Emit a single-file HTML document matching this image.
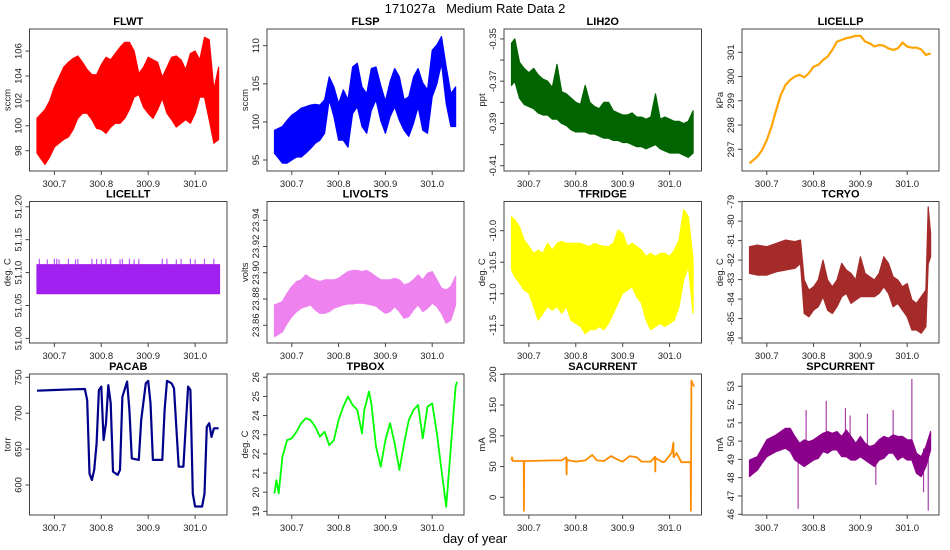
<!DOCTYPE html>
<html><head><meta charset="utf-8">
<style>
html,body{margin:0;padding:0;background:#fff;}
svg{display:block;font-family:"Liberation Sans",Arial,sans-serif;}
</style></head>
<body>
<svg id="chart" width="950" height="550" viewBox="0 0 950 550">
<text x="475" y="13" font-size="13" text-anchor="middle" fill="#000" style="white-space:pre">171027a&#160;&#160;&#160;Medium Rate Data 2</text>
<text x="475" y="543" font-size="13" text-anchor="middle" fill="#000">day of year</text>
</svg>
<script>
// ---- shared x ticks ----
const xTicks = [300.7, 300.8, 300.9, 301.0];
const xTickLabels = ["300.7", "300.8", "300.9", "301.0"];

// ---- FLWT ----
const tFLWT = [300.663,300.68,300.69,300.70,300.71,300.72,300.73,300.74,300.75,300.76,300.77,300.78,300.79,300.80,300.81,300.82,300.83,300.84,300.85,300.86,300.87,300.88,300.89,300.90,300.91,300.92,300.93,300.94,300.95,300.96,300.97,300.98,300.99,301.00,301.01,301.02,301.03,301.04,301.05];
const hiFLWT = [100.6,101.3,102,103.1,103.9,104.7,105.1,105.4,105.6,105.1,104.5,104.1,104.1,104.9,105.5,105.3,105.8,106.3,106.7,106.7,106,104.2,104.7,105.5,105.3,105.1,103.9,104.7,105.5,105.6,105.3,104.5,105.8,106,105.3,107.1,106.9,102.9,104.7];
const loFLWT = [97.8,96.9,97.5,98.3,98.6,98.9,99.1,99.7,100.6,101,101,100.5,99.8,99.7,99.4,99.9,100.2,100.2,100.6,101.3,102.3,102.5,101.5,101,100.6,101.3,102.2,101,100.5,99.9,100.2,100.5,100.2,101,102.3,102.3,100.5,98.6,98.9];

// ---- FLSP ----
const tFLSP = tFLWT;
const hiFLSP = [98.9,99.4,100.2,100.9,101.3,101.8,102,102.2,102.3,102.2,102.9,105.9,104.6,102.4,104.2,102.9,107.2,107.7,104.6,103.7,107,107.2,104.8,102.7,105.3,107,105.9,102.9,103.3,105.9,107,105.1,104.2,109.4,110.1,111.2,107.2,103.7,104.6];
const loFLSP = [95.9,94.6,94.6,95,95.4,95.4,95.9,96.5,97.2,97.6,98.5,102.9,100.7,97.6,97.6,96.7,101.1,102,99.4,98.5,101.5,102.9,100.2,98.5,100.7,102,100.2,98.9,98.1,99.8,102,98.9,98.5,103.3,105,107.7,102.4,99.4,99.4];

// ---- LIH2O ----
const tLIH2O = [300.663,300.67,300.68,300.69,300.70,300.71,300.72,300.73,300.74,300.75,300.76,300.77,300.78,300.79,300.80,300.81,300.82,300.83,300.84,300.85,300.86,300.87,300.88,300.89,300.90,300.91,300.92,300.93,300.94,300.95,300.96,300.97,300.98,300.99,301.00,301.01,301.02,301.03,301.04,301.05];
const hiLIH2O = [-0.352,-0.35,-0.361,-0.364,-0.366,-0.364,-0.367,-0.369,-0.370,-0.373,-0.362,-0.375,-0.376,-0.378,-0.380,-0.381,-0.372,-0.380,-0.382,-0.383,-0.380,-0.380,-0.384,-0.385,-0.386,-0.386,-0.385,-0.387,-0.387,-0.388,-0.387,-0.376,-0.388,-0.387,-0.388,-0.389,-0.389,-0.390,-0.389,-0.384];
const loLIH2O = [-0.372,-0.370,-0.378,-0.381,-0.382,-0.383,-0.385,-0.386,-0.386,-0.388,-0.388,-0.390,-0.391,-0.393,-0.394,-0.394,-0.394,-0.395,-0.395,-0.396,-0.397,-0.397,-0.398,-0.398,-0.399,-0.399,-0.400,-0.401,-0.401,-0.402,-0.401,-0.400,-0.402,-0.403,-0.404,-0.404,-0.404,-0.405,-0.406,-0.404];

// ---- LICELLP ----
const tLICELLP = tFLWT;
const vLICELLP = [296.42,296.7,296.97,297.38,297.93,298.62,299.24,299.65,299.86,300,300.07,299.97,300.14,300.41,300.48,300.68,300.82,301.1,301.44,301.51,301.58,301.62,301.68,301.68,301.44,301.37,301.24,301.3,301.27,301.16,301.1,301.16,301.4,301.24,301.19,301.19,301.12,300.89,300.96];

// ---- LICELLT ----
const tLICELLT = [300.663, 301.052];
const hiLICELLT = [51.112, 51.112];
const loLICELLT = [51.068, 51.068];
const spikeTLICELLT = [300.668,300.685,300.7,300.705,300.71,300.73,300.745,300.75,300.78,300.79,300.8,300.81,300.82,300.84,300.845,300.86,300.87,300.88,300.93,300.94,300.96,300.97,300.99,301.0,301.02,301.04];
const spikeVLICELLT = [51.121,51.12,51.121,51.121,51.12,51.121,51.12,51.121,51.121,51.121,51.12,51.121,51.121,51.12,51.121,51.121,51.12,51.121,51.121,51.121,51.12,51.121,51.121,51.12,51.121,51.121];

// ---- LIVOLTS ----
const tLIVOLTS = tFLWT;
const hiLIVOLTS = [23.8755,23.878,23.8844,23.8895,23.8933,23.8946,23.8984,23.8958,23.8946,23.8933,23.8946,23.8946,23.8946,23.8958,23.8984,23.9009,23.9017,23.9017,23.9009,23.9017,23.8996,23.8971,23.8946,23.8946,23.8946,23.8958,23.8946,23.8907,23.892,23.8946,23.8984,23.8946,23.8996,23.9009,23.8946,23.8882,23.8869,23.8895,23.8971];
const loLIVOLTS = [23.8514,23.855,23.8615,23.8666,23.8704,23.873,23.8742,23.8755,23.8717,23.8691,23.8691,23.8704,23.873,23.8742,23.8755,23.8763,23.8763,23.8768,23.8768,23.8763,23.8755,23.8747,23.8717,23.8691,23.8704,23.8742,23.8704,23.8653,23.8666,23.8717,23.8755,23.8704,23.873,23.8768,23.8742,23.8691,23.8615,23.864,23.8755];

// ---- TFRIDGE ----
const tTFRIDGE = tLIH2O;
const hiTFRIDGE = [-9.78,-9.83,-9.94,-10.15,-10.25,-10.36,-10.31,-10.36,-10.2,-10.31,-10.2,-10.17,-10.2,-10.2,-10.2,-10.2,-10.23,-10.25,-10.2,-10.23,-10.25,-10.25,-10.2,-9.99,-10.04,-10.25,-10.2,-10.25,-10.31,-10.41,-10.36,-10.41,-10.36,-10.36,-10.41,-10.31,-10.15,-9.67,-9.78,-10.46];
const loTFRIDGE = [-10.62,-10.73,-10.83,-10.94,-10.99,-11.2,-11.42,-11.31,-11.2,-11.26,-11.2,-11.31,-11.2,-11.42,-11.47,-11.52,-11.63,-11.57,-11.57,-11.52,-11.57,-11.47,-11.31,-11.15,-10.99,-10.94,-10.89,-11.05,-11.15,-11.42,-11.57,-11.52,-11.47,-11.52,-11.47,-11.42,-11.2,-10.78,-10.57,-11.31];

// ---- TCRYO ----
const tTCRYO = [300.663,300.68,300.70,300.72,300.74,300.76,300.772,300.78,300.79,300.80,300.81,300.82,300.83,300.84,300.85,300.86,300.87,300.88,300.89,300.90,300.91,300.92,300.93,300.94,300.95,300.96,300.97,300.98,300.99,301.00,301.01,301.02,301.03,301.04,301.045,301.05];
const hiTCRYO = [-81.31,-81.23,-81.31,-81.14,-80.97,-81.05,-80.97,-83.02,-83.54,-83.37,-83.02,-82,-83.02,-83.37,-83.02,-82.17,-82.51,-82.68,-83.02,-81.83,-82.68,-82.85,-83.02,-82.68,-81.83,-82.17,-82.85,-83.02,-83.37,-83.2,-84.05,-84.22,-83.88,-83.54,-79.26,-80.63];
const loTCRYO = [-82.68,-82.77,-82.77,-82.6,-82.51,-82.42,-82.17,-84.74,-84.91,-84.57,-84.39,-83.88,-84.57,-84.74,-84.39,-83.88,-83.71,-84.22,-84.05,-83.88,-83.88,-83.88,-83.88,-83.71,-83.37,-83.71,-84.39,-84.22,-84.57,-84.91,-85.59,-85.59,-85.76,-85.42,-82.2,-81.83];

// ---- PACAB ----
const tPACAB = [300.663,300.70,300.74,300.765,300.77,300.775,300.78,300.785,300.79,300.795,300.80,300.805,300.81,300.815,300.82,300.825,300.835,300.84,300.845,300.855,300.86,300.865,300.88,300.885,300.895,300.90,300.905,300.91,300.93,300.935,300.94,300.95,300.955,300.96,300.965,300.975,300.98,300.985,300.99,300.995,301.00,301.015,301.02,301.025,301.03,301.035,301.04,301.05];
const vPACAB = [731.4,732.3,733.3,733.7,718,616,607,621,658,732,737,662.7,686,739,714,618.6,614,621,723,744,704.5,637,635,690.5,741.6,745,714,635,635,704.5,745,741.6,734.7,681,625.5,625.5,681,737,732.3,588,570,570,588,681,686,667,679,679];

// ---- TPBOX ----
const tTPBOX = [300.663,300.667,300.672,300.68,300.69,300.70,300.71,300.72,300.73,300.74,300.75,300.76,300.77,300.78,300.79,300.80,300.81,300.82,300.83,300.84,300.85,300.855,300.865,300.87,300.88,300.89,300.90,300.91,300.92,300.93,300.94,300.95,300.96,300.97,300.98,300.99,301.00,301.01,301.02,301.03,301.04,301.05,301.053];
const vTPBOX = [19.94,20.63,19.94,21.85,22.72,22.81,23.16,23.6,23.86,23.77,23.42,22.9,23.16,22.46,22.72,23.77,24.47,24.99,24.55,24.29,23.07,24.29,25.25,24.64,22.38,21.33,22.72,23.6,22.55,21.16,22.55,23.77,24.29,24.55,22.81,24.47,24.64,23.07,21.16,19.24,22.38,25.51,25.77];

// ---- SACURRENT ----
const tSACURRENT = [300.663,300.664,300.666,300.689,300.6895,300.690,300.70,300.75,300.77,300.78,300.7805,300.781,300.785,300.80,300.82,300.835,300.845,300.86,300.875,300.89,300.90,300.915,300.93,300.94,300.96,300.969,300.9695,300.97,300.985,300.99,301.005,301.008,301.0085,301.015,301.025,301.045,301.0455,301.0465,301.052];
const vSACURRENT = [60,65,59,59,-22,59,59,60,60,65,37,62,60,58,60,69,60,59,67,61,58,67,65,58,58,66,42,64,57,58,73,89,65,72,57,57,-22,190,180];

// ---- SPCURRENT ----
const tSPCURRENT = [300.663,300.68,300.69,300.70,300.72,300.74,300.75,300.76,300.77,300.78,300.79,300.80,300.81,300.82,300.83,300.84,300.85,300.86,300.87,300.88,300.89,300.90,300.91,300.92,300.93,300.94,300.95,300.96,300.97,300.98,300.99,301.00,301.01,301.02,301.03,301.04,301.05];
const hiSPCURRENT = [48.97,49.15,49.61,50.07,50.34,50.7,50.7,50.25,49.88,50.07,49.97,50.07,50.25,50.43,50.52,50.43,50.52,50.25,50.61,50.25,49.88,50.25,49.88,49.7,49.79,50.07,50.25,50.16,50.34,50.25,50.25,50.07,50.07,49.34,49.15,49.7,50.52];
const loSPCURRENT = [48.06,48.42,48.79,49.15,49.43,49.61,49.43,48.97,48.79,48.61,48.79,48.97,49.06,49.43,49.34,49.52,49.52,49.15,49.15,48.97,48.97,49.15,48.97,48.79,48.61,48.97,49.06,49.34,49.34,48.97,49.15,48.97,48.97,48.24,48.06,48.61,49.52];
const spikeTSPCURRENT = [300.767,300.784,300.827,300.868,300.878,300.915,300.933,300.97,301.01,301.045,301.035];
const spikeVSPCURRENT = [46.3,51.7,52.2,51.8,51.4,51.5,47.6,51.7,53.4,46.2,47.2];

// ---------- layout ----------
const colX = [[29.5,227],[267,464],[504,701.5],[742,939]];
const rowY = [[29,171],[201.5,343],[374,515]];
const xDomain = [300.647, 301.068];
const NS = "http://www.w3.org/2000/svg";
const svg = document.getElementById('chart');

function mk(tag, attrs, parent){
  const e = document.createElementNS(NS, tag);
  for (const k in attrs) e.setAttribute(k, attrs[k]);
  (parent||svg).appendChild(e);
  return e;
}

const panels = [
 {name:"FLWT", c:0,r:0, ylab:"sccm", color:"#ff0000", lim:[96.37,107.77], ticks:[98,100,102,104,106], labels:["98","100","102","104","106"], t:tFLWT, hi:hiFLWT, lo:loFLWT},
 {name:"FLSP", c:1,r:0, ylab:"sccm", color:"#0000ff", lim:[93.56,112.19], ticks:[95,100,105,110], labels:["95","100","105","110"], t:tFLSP, hi:hiFLSP, lo:loFLSP},
 {name:"LIH2O", c:2,r:0, ylab:"ppt", color:"#006400", lim:[-0.4125,-0.3453], ticks:[-0.41,-0.40,-0.39,-0.38,-0.37,-0.36,-0.35], labels:["-0.41","","-0.39","","-0.37","","-0.35"], t:tLIH2O, hi:hiLIH2O, lo:loLIH2O},
 {name:"LICELLP", c:3,r:0, ylab:"kPa", color:"#ffa500", lim:[296.105,301.96], ticks:[297,298,299,300,301], labels:["297","298","299","300","301"], t:tLICELLP, v:vLICELLP, w:2.2},
 {name:"LICELLT", c:0,r:1, ylab:"deg. C", color:"#a020f0", lim:[50.993,51.208], ticks:[51.00,51.05,51.10,51.15,51.20], labels:["51.00","51.05","51.10","51.15","51.20"], t:tLICELLT, hi:hiLICELLT, lo:loLICELLT, st:spikeTLICELLT, sv:spikeVLICELLT, spikeBase:51.1},
 {name:"LIVOLTS", c:1,r:1, ylab:"volts", color:"#ee82ee", lim:[23.8465,23.9543], ticks:[23.86,23.88,23.90,23.92,23.94], labels:["23.86","23.88","23.90","23.92","23.94"], t:tLIVOLTS, hi:hiLIVOLTS, lo:loLIVOLTS},
 {name:"TFRIDGE", c:2,r:1, ylab:"deg. C", color:"#ffff00", lim:[-11.781,-9.537], ticks:[-11.5,-11.0,-10.5,-10.0], labels:["-11.5","-11.0","-10.5","-10.0"], t:tTFRIDGE, hi:hiTFRIDGE, lo:loTFRIDGE},
 {name:"TCRYO", c:3,r:1, ylab:"deg. C", color:"#a52a2a", lim:[-86.256,-78.99], ticks:[-86,-85,-84,-83,-82,-81,-80,-79], labels:["-86","-85","-84","-83","-82","-81","-80","-79"], t:tTCRYO, hi:hiTCRYO, lo:loTCRYO},
 {name:"PACAB", c:0,r:2, ylab:"torr", color:"#00008b", lim:[558.2,754.6], ticks:[600,650,700,750], labels:["600","650","700","750"], t:tPACAB, v:vPACAB, w:2.2},
 {name:"TPBOX", c:1,r:2, ylab:"deg. C", color:"#00ff00", lim:[18.81,26.17], ticks:[19,20,21,22,23,24,25,26], labels:["19","20","21","22","23","24","25","26"], t:tTPBOX, v:vTPBOX, w:1.8},
 {name:"SACURRENT", c:2,r:2, ylab:"mA", color:"#ff8c00", lim:[-28.8,200.5], ticks:[0,50,100,150,200], labels:["0","50","100","150","200"], t:tSACURRENT, v:vSACURRENT, w:1.8},
 {name:"SPCURRENT", c:3,r:2, ylab:"mA", color:"#8b008b", lim:[45.96,53.67], ticks:[46,47,48,49,50,51,52,53], labels:["46","47","48","49","50","51","52","53"], t:tSPCURRENT, hi:hiSPCURRENT, lo:loSPCURRENT, st:spikeTSPCURRENT, sv:spikeVSPCURRENT, spikeBase:49.6}
];

panels.forEach(p => {
  const [x0,x1] = colX[p.c], [y0,y1] = rowY[p.r];
  const xs = t => x0 + (t - xDomain[0]) / (xDomain[1]-xDomain[0]) * (x1-x0);
  const ys = v => y1 - (v - p.lim[0]) / (p.lim[1]-p.lim[0]) * (y1-y0);
  const slug = p.name.toLowerCase();
  const g = mk('g', {});
  
  

  const clipId = 'clip-' + slug;
  const cp = mk('clipPath', {id: clipId}, g);
  mk('rect', {x:x0, y:y0, width:x1-x0, height:y1-y0}, cp);
  const dg = mk('g', {'clip-path': 'url(#' + clipId + ')'}, g);

  if (p.hi) {
    let pts = p.t.map((t,i) => xs(t).toFixed(1)+','+ys(p.hi[i]).toFixed(1));
    for (let i = p.t.length-1; i >= 0; i--) pts.push(xs(p.t[i]).toFixed(1)+','+ys(p.lo[i]).toFixed(1));
    const band = mk('polygon', {points: pts.join(' '), fill: p.color, stroke: p.color, 'stroke-width': 1.2, 'stroke-linejoin':'round'}, dg);
    
    
  }
  if (p.st) {
    p.st.forEach((t,i) => {
      const s = mk('line', {x1: xs(t), x2: xs(t), y1: ys(p.spikeBase), y2: ys(p.sv[i]), stroke: p.color, 'stroke-width': 1.2, opacity: 0.75}, dg);
      
      
    });
  }
  if (p.v) {
    const d = p.t.map((t,i) => (i?'L':'M') + xs(t).toFixed(1) + ' ' + ys(p.v[i]).toFixed(1)).join(' ');
    const ln = mk('path', {d: d, fill: 'none', stroke: p.color, 'stroke-width': p.w, 'stroke-linejoin':'round'}, dg);
    
    
  }

  const box = mk('rect', {x:x0, y:y0, width:x1-x0, height:y1-y0, fill:'none', stroke:'#444', 'stroke-width':1}, g);
  
  

  const title = mk('text', {x:(x0+x1)/2, y:y0-4, 'font-size':11, 'font-weight':'bold', 'text-anchor':'middle', fill:'#000'}, g);
  title.textContent = p.name;
  
  

  const xa = mk('g', {}, g);
  
  
  xTicks.forEach((t,i) => {
    const X = xs(t);
    mk('line', {x1:X, x2:X, y1:y1, y2:y1+4, stroke:'#444'}, xa);
    const tx = mk('text', {x:X, y:y1+16, 'font-size':9.5, 'text-anchor':'middle', fill:'#222'}, xa);
    tx.textContent = xTickLabels[i];
  });

  const ya = mk('g', {}, g);
  
  
  p.ticks.forEach((v,i) => {
    const Y = ys(v);
    mk('line', {x1:x0-4, x2:x0, y1:Y, y2:Y, stroke:'#444'}, ya);
    if (p.labels[i]) {
      const tx = mk('text', {x:x0-8, y:Y, 'font-size':9.5, 'text-anchor':'middle', fill:'#222', transform:'rotate(-90 '+(x0-8)+' '+Y+')'}, ya);
      tx.textContent = p.labels[i];
    }
  });
  const yl = mk('text', {x:x0-19, y:(y0+y1)/2, 'font-size':9.5, 'text-anchor':'middle', fill:'#222', transform:'rotate(-90 '+(x0-19)+' '+((y0+y1)/2)+')'}, g);
  yl.textContent = p.ylab;
  
  
});
</script>
</body></html>
